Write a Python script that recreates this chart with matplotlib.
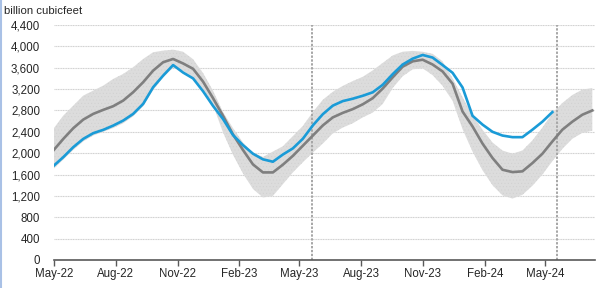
import numpy as np
import pandas as pd
import matplotlib
matplotlib.use("Agg")
import matplotlib.pyplot as plt
import matplotlib.dates as mdates
from matplotlib.lines import Line2D

plt.rcParams['font.family'] = ['Liberation Sans', 'DejaVu Sans']
plt.rcParams['hatch.linewidth'] = 0.3

# sample dates (about every two weeks), May 2022 - Jul 2024
dates = pd.date_range('2022-04-30', '2024-07-10', periods=55)

# working gas in storage, billion cubic feet
storage = [1758, 1926, 2113, 2268, 2375, 2437, 2517, 2611, 2736, 2923,
           3235, 3452, 3650, 3510, 3400, 3160, 2885, 2640, 2340, 2150,
           1990, 1885, 1840, 1975, 2090, 2270, 2520, 2730, 2890, 2975,
           3020, 3075, 3140, 3280, 3480, 3660, 3770, 3839, 3790, 3650,
           3505, 3230, 2700, 2535, 2400, 2330, 2300, 2300, 2440, 2590,
           2770]

avg_5yr = [2050, 2268, 2468, 2629, 2736, 2811, 2880, 2985, 3142, 3329,
           3546, 3703, 3764, 3680, 3580, 3340, 3030, 2700, 2350, 2060,
           1790, 1640, 1640, 1785, 1950, 2140, 2330, 2520, 2670, 2755,
           2825, 2915, 3030, 3210, 3420, 3620, 3720, 3750, 3660, 3530,
           3300, 2780, 2500, 2180, 1910, 1690, 1646, 1660, 1815, 1990,
           2220, 2440, 2590, 2720, 2800]

range_hi = [2455, 2704, 2891, 3078, 3172, 3265, 3390, 3484, 3609, 3764,
            3890, 3920, 3938, 3900, 3760, 3500, 3170, 2770, 2470, 2200,
            2010, 1930, 2030, 2130, 2320, 2510, 2770, 3000, 3150, 3260,
            3350, 3430, 3550, 3690, 3830, 3900, 3915, 3900, 3860, 3720,
            3400, 3050, 2710, 2440, 2200, 2050, 1990, 2050, 2240, 2480,
            2750, 2940, 3090, 3190, 3220]

range_lo = [1700, 1880, 2060, 2220, 2330, 2400, 2470, 2560, 2690, 2880,
            3180, 3420, 3600, 3540, 3420, 3200, 2900, 2390, 1970, 1620,
            1330, 1170, 1200, 1420, 1640, 1830, 2010, 2180, 2370, 2480,
            2560, 2670, 2760, 2920, 3220, 3440, 3570, 3590, 3460, 3260,
            2980, 2450, 2030, 1680, 1400, 1210, 1150, 1220, 1390, 1600,
            1850, 2080, 2270, 2380, 2420]

marker_dates = ['2023-05-20', '2024-05-19']
tick_dates = pd.date_range('2022-05-01', '2024-05-01', freq='3MS')

fig = plt.figure(figsize=(6, 2.88), dpi=100)
ax = fig.add_axes([54/600, 28/288, 541/600, 235/288])

ax.fill_between(dates, range_lo, range_hi, facecolor='#dcdcdc',
                edgecolor='#d0d0d0', hatch='.....', lw=0, zorder=1)
ax.plot(dates, avg_5yr, color='#7f7f7f', lw=1.9, zorder=3)
ax.plot(dates[:len(storage)], storage, color='#1a9bd7', lw=1.9, zorder=4)

for d in marker_dates:
    ax.axvline(pd.Timestamp(d), color='#a6a6a6', lw=1.4, ls=(0, (1.2, 0.8)), zorder=2)

ax.set_ylim(0, 4400)
ax.set_yticks(np.arange(0, 4401, 400))
ax.set_yticklabels([f'{v:,}' for v in range(0, 4401, 400)])
ax.set_xlim(pd.Timestamp('2022-05-01'), pd.Timestamp('2024-07-14'))
ax.set_xticks(tick_dates)
ax.xaxis.set_major_formatter(mdates.DateFormatter('%b-%y'))

ax.grid(axis='y', color='#d0d0d0', lw=0.8, ls=(0, (1, 0.5)), zorder=0)
ax.set_axisbelow(True)
for s in ['top', 'right', 'left']:
    ax.spines[s].set_visible(False)
ax.spines['bottom'].set_color('#595959')
ax.spines['bottom'].set_linewidth(1.2)
ax.tick_params(axis='y', length=0, pad=10, labelsize=8.3, labelcolor='#262626')
ax.tick_params(axis='x', length=4, width=1, color='#595959', pad=2,
               labelsize=8.3, labelcolor='#262626')

fig.text(4/600, 1 - 11/288, 'billion cubicfeet', fontsize=8.2, color='#262626',
         va='center', ha='left')
fig.add_artist(Line2D([0.002, 0.002], [0, 1], color='#a9c1e6', lw=1.5,
                      transform=fig.transFigure))

fig.savefig('out.png', dpi=100)
